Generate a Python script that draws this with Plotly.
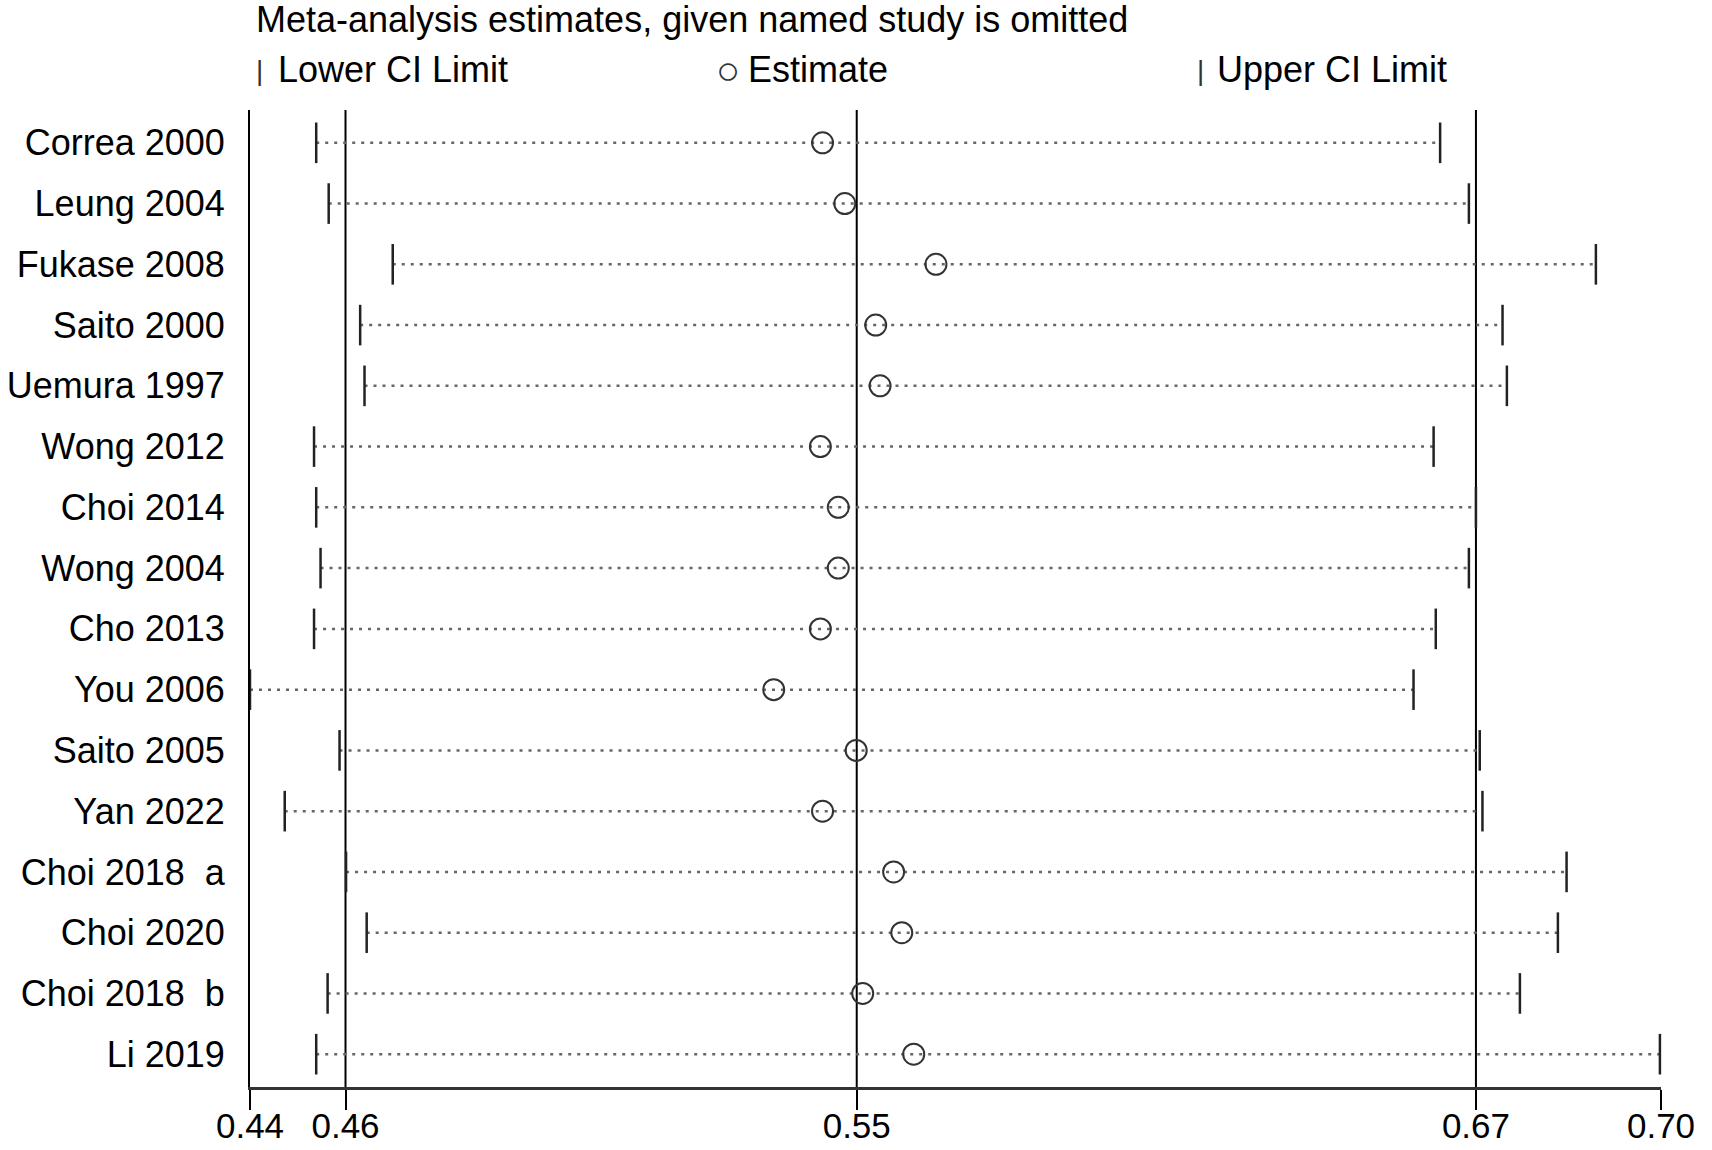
import plotly.graph_objects as go

# studies, top to bottom
studies = ["Correa 2000", "Leung 2004", "Fukase 2008", "Saito 2000", "Uemura 1997",
           "Wong 2012", "Choi 2014", "Wong 2004", "Cho 2013", "You 2006",
           "Saito 2005", "Yan 2022", "Choi 2018  a", "Choi 2020", "Choi 2018  b",
           "Li 2019"]
lower = [0.4522, 0.4545, 0.4663, 0.4603, 0.4611, 0.4518, 0.4522, 0.4530,
         0.4518, 0.4400, 0.4565, 0.4464, 0.4577, 0.4615, 0.4543, 0.4522]
estimate = [0.5455, 0.5496, 0.5664, 0.5553, 0.5561, 0.5451, 0.5484, 0.5484,
            0.5451, 0.5365, 0.5517, 0.5455, 0.5586, 0.5601, 0.5529, 0.5623]
upper = [0.6593, 0.6646, 0.6880, 0.6708, 0.6716, 0.6581, 0.6659, 0.6646,
         0.6585, 0.6544, 0.6666, 0.6671, 0.6826, 0.6810, 0.6740, 0.6998]

# full meta-analysis: lower CI, estimate, upper CI
overall = [0.4576, 0.5518, 0.6659]
x_range = [0.44, 0.70]
tick_vals = [0.44, 0.4576, 0.5518, 0.6659, 0.70]
tick_text = ["0.44", "0.46", "0.55", "0.67", "0.70"]

FONT = "Liberation Sans, Arial, sans-serif"

fig = go.Figure()

# dotted CI lines
xs, ys = [], []
for s, lo, hi in zip(studies, lower, upper):
    xs += [lo, hi, None]
    ys += [s, s, None]
fig.add_trace(go.Scatter(x=xs, y=ys, mode="lines",
                         line=dict(color="#666666", width=2.5, dash="3px,6px"),
                         hoverinfo="skip", showlegend=False))

# CI limit ticks
for vals in (lower, upper):
    fig.add_trace(go.Scatter(x=vals, y=studies, mode="markers", cliponaxis=False,
                             marker=dict(symbol="line-ns", size=29, color="#222222",
                                         line=dict(color="#222222", width=2.5)),
                             showlegend=False))

# estimates
fig.add_trace(go.Scatter(x=estimate, y=studies, mode="markers", cliponaxis=False,
                         marker=dict(symbol="circle-open", size=21, color="#333333",
                                     line=dict(color="#333333", width=2)),
                         showlegend=False))

# reference lines at overall CI and estimate
for v in overall:
    fig.add_shape(type="line", xref="x", yref="paper", x0=v, x1=v, y0=0, y1=1,
                  line=dict(color="black", width=2), layer="below")

# pixel helpers for the title / legend text
L, R, T, B, W, H = 250, 51, 110, 63, 1712, 1150
def px(x):
    return (x - L) / (W - L - R)
def py(y):
    return (H - B - y) / (H - T - B)

fig.add_annotation(text="Meta-analysis estimates, given named study is omitted",
                   xref="paper", yref="paper", x=px(254), y=py(20),
                   xanchor="left", yanchor="middle", showarrow=False,
                   font=dict(size=36, color="black", family=FONT))
legend_items = [(254, "|", 28, 276, "Lower CI Limit"),
                (714, "○", 40, 746, "Estimate"),
                (1195, "|", 28, 1215, "Upper CI Limit")]
for gx, glyph, gsize, tx, label in legend_items:
    fig.add_annotation(text=glyph, xref="paper", yref="paper", x=px(gx), y=py(70),
                       xanchor="left", yanchor="middle", showarrow=False,
                       font=dict(size=gsize, color="#333333", family=FONT))
    fig.add_annotation(text=label, xref="paper", yref="paper", x=px(tx), y=py(69),
                       xanchor="left", yanchor="middle", showarrow=False,
                       font=dict(size=36, color="black", family=FONT))

fig.update_layout(
    width=W, height=H,
    margin=dict(l=L, r=R, t=T, b=B),
    plot_bgcolor="white", paper_bgcolor="white",
    font=dict(family=FONT, color="black"),
    xaxis=dict(range=x_range, tickvals=tick_vals, ticktext=tick_text,
               showgrid=False, zeroline=False, showline=True, automargin=False,
               linecolor="#333333", linewidth=3,
               ticks="outside", ticklen=20, tickwidth=2, tickcolor="black",
               ticklabelstandoff=-14,
               tickfont=dict(size=35, color="black", family=FONT)),
    yaxis=dict(categoryorder="array", categoryarray=studies,
               range=[len(studies) - 0.46, -0.54], automargin=False,
               showgrid=False, zeroline=False, showline=True,
               linecolor="black", linewidth=2, ticks="",
               ticklabelstandoff=16,
               tickfont=dict(size=36, color="black", family=FONT)),
)

# drop the page's default body margin so the 1712x1150 figure fits the window
fig.write_html("out.html", config={"displayModeBar": False},
               post_script="document.body.style.margin = '0';")
